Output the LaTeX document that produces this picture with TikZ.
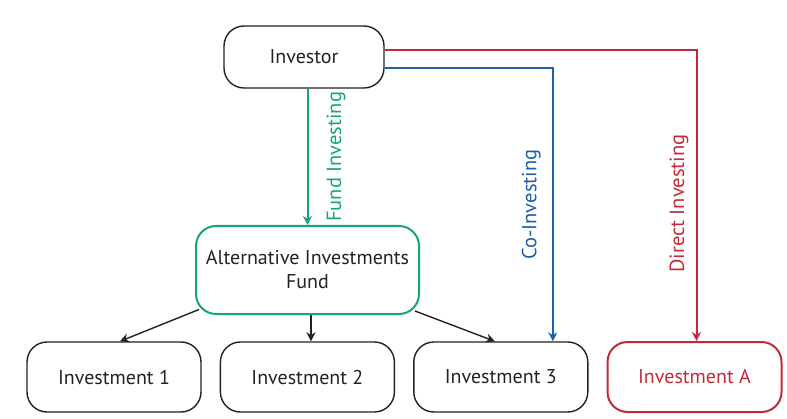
\documentclass[tikz,border=0pt]{standalone}
\usepackage{fontspec}
\setmainfont{PT Sans}
\usepackage{tikz}
\usetikzlibrary{
    arrows.meta,
    calc,
    positioning
}
\definecolor{fundgreen}{HTML}{17A282}
\definecolor{coblue}{HTML}{1E5FA8}
\definecolor{directred}{HTML}{C22A3A}
\definecolor{boxgray}{HTML}{222222}
\tikzstyle{arrow}=[line width=1.4pt,-{Stealth[length=9pt,width=9pt]},draw=boxgray]

\begin{document}
\begin{tikzpicture}[
    x=1pt, y=1pt,
    node distance=18pt,
    box/.style={
        rectangle,
        rounded corners=20pt,
        draw=boxgray,
        line width=1.4pt,
        minimum width=174pt,
        minimum height=70pt,
        align=center,
        text=boxgray,
        font=\fontsize{20}{24}\selectfont
    },
    lbl/.style={
        rotate=90,
        inner xsep=0pt,
        font=\fontsize{20.5}{24}\selectfont
    }
]
\useasboundingbox (0,0) rectangle (787,418);

\node[box,minimum width=160pt,minimum height=62pt] (investor) at (304,361) {Investor};
\node[box,draw=fundgreen,line width=2pt,minimum width=223pt,minimum height=88pt]
    (fund) at (307.5,148) {Alternative Investments\\Fund};
\node[box] (inv1) at (114,41) {Investment 1};
\node[box,right=of inv1] (inv2) {Investment 2};
\node[box,right=of inv2] (inv3) {Investment 3};
\node[box,right=of inv3,draw=directred,text=directred,line width=2pt] (invA) {Investment A};

% three ways to invest
\draw[arrow,draw=fundgreen,line width=2pt] (investor.south -| fund.north) --
    node[lbl,text=fundgreen,anchor=north,inner ysep=18pt] (fundlbl) {Fund Investing} (fund.north);
\draw[arrow,draw=coblue,line width=2pt] ([yshift=-11pt]investor.east) -|
    node[lbl,pos=0.75,text=coblue,anchor=south,inner ysep=11pt] (colbl) {Co-Investing}
    ([xshift=52pt]inv3.north);
\draw[arrow,draw=directred,line width=2pt] ([yshift=7pt]investor.east) -|
    node[lbl,pos=0.764,text=directred,anchor=south,inner ysep=7pt] (directlbl) {Direct Investing}
    ([xshift=2pt]invA.north);

% fund to its investments
\draw[arrow] ($(fund.south west)+(4,5.5)$) -- ($(inv1.north)+(6,0)$);
\draw[arrow] ([xshift=3.5pt]fund.south) -- ([xshift=3.5pt]fund.south |- inv2.north);
\draw[arrow] ($(fund.south east)+(-5,4)$) -- ($(inv3.north)+(-6,0)$);
\end{tikzpicture}
\end{document}
